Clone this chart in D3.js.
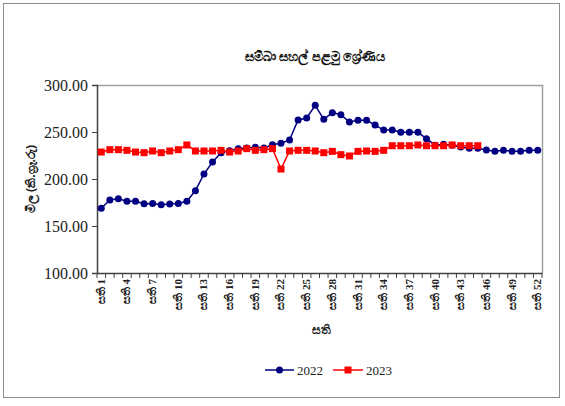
<!DOCTYPE html>
<html><head><meta charset="utf-8">
<script src="https://cdn.jsdelivr.net/npm/d3@7/dist/d3.min.js"></script>
<style>body{margin:0;background:#fff}svg{display:block}.serif text,text.serif{font-family:'Liberation Serif','Times New Roman',serif}</style>
</head><body><svg id="c" width="565" height="406"></svg>
<script>
const weeks = d3.range(1, 53).map(w => "සති " + w);
const tickWeeks = d3.range(1, 53, 3);
const s2022 = [168.8,177.7,179.0,176.3,176.3,173.8,174.0,172.7,173.4,174.0,176.3,187.6,205.3,218.0,228.0,230.0,232.3,233.0,233.7,233.0,236.5,238.0,241.5,262.8,264.9,278.4,263.5,270.6,268.4,260.6,262.4,262.4,257.4,252.1,252.1,249.7,249.7,249.7,242.9,236.0,237.0,236.0,234.0,232.6,232.6,230.9,229.4,230.5,229.4,229.4,230.5,230.5];
const s2023 = [228.7,231.2,231.2,230.5,228.7,228.0,229.8,228.0,229.8,231.2,236.2,229.8,229.8,229.8,230.5,228.7,229.8,232.3,230.5,231.2,232.3,210.6,229.8,230.5,230.5,229.8,228.0,229.4,225.9,224.5,229.4,229.8,229.4,230.5,235.4,235.4,235.4,236.2,235.4,235.4,235.4,236.2,235.4,235.4,235.4];
const yTicks = [100,150,200,250,300];
const title = "සම්බා සහල් පළමු ශ්‍රේණිය";
const yTitle = "මිල (කි.ග්‍රෑ.රු)";
const xTitle = "සති";
const seriesNames = ["2022","2023"];

const svg = d3.select("#c");
svg.append("rect").attr("x",3.5).attr("y",3.5).attr("width",556).attr("height",394).attr("fill","#fff").attr("stroke","#8c8c8c").attr("stroke-width",1);

const L=97, R=542, T=85, B=273;
const x = d3.scaleBand().domain(weeks).range([L,R]);
const y = d3.scaleLinear().domain([100,300]).range([B,T]);
const cx = i => x(weeks[i]) + x.bandwidth()/2;

// plot border top/right
svg.append("path").attr("d",`M${L},${T+0.5}H${R+0.5}V${B}`).attr("fill","none").attr("stroke","#a0a0a0").attr("stroke-width",1.5);

// y axis
const ya = svg.append("g").attr("class","serif").attr("transform",`translate(${L},0)`).call(d3.axisLeft(y).tickValues(yTicks).tickSize(5).tickFormat(d3.format(".2f")));
ya.attr("font-size",16);
ya.select(".domain").attr("stroke","#404040").attr("stroke-width",1.5);
ya.selectAll(".tick line").attr("stroke","#404040");
ya.selectAll("text").attr("fill","#222").attr("dx",-1);

// x axis
const xa = svg.append("g").attr("class","serif").attr("transform",`translate(0,${B})`).call(d3.axisBottom(x).tickSize(0).tickFormat(""));
xa.attr("font-size",11);
xa.select(".domain").attr("stroke","#404040").attr("stroke-width",1.5);
const bounds = d3.range(0,53).map(i => L + i*x.step());
xa.selectAll("line.b").data(bounds).join("line").attr("class","b").attr("x1",d=>d).attr("x2",d=>d).attr("y1",0).attr("y2",5).attr("stroke","#404040");
xa.selectAll("text.lab").data(tickWeeks).join("text").attr("class","lab")
  .attr("transform",d=>`translate(${cx(d-1)+3.5},6) rotate(-90)`)
  .attr("text-anchor","end").attr("font-weight","bold").attr("fill","#222")
  .text(d=>weeks[d-1]);

// titles
svg.append("text").attr("x",315).attr("y",61).attr("text-anchor","middle").attr("font-size",13).attr("font-weight","bold").attr("fill","#111").attr("font-family","Noto Sans, sans-serif").text(title);
svg.append("text").attr("transform",`translate(35,${(T+B)/2}) rotate(-90)`).attr("text-anchor","middle").attr("font-size",12).attr("font-weight","bold").attr("fill","#222").attr("font-family","Noto Sans, sans-serif").text(yTitle);
svg.append("text").attr("x",321).attr("y",334).attr("text-anchor","middle").attr("font-size",12).attr("font-weight","bold").attr("fill","#222").attr("font-family","Noto Sans, sans-serif").text(xTitle);

// lines
const line = d3.line().x((d,i)=>cx(i)).y(d=>y(d));
svg.append("path").datum(s2022).attr("d",line).attr("fill","none").attr("stroke","#000080").attr("stroke-width",1.5);
svg.selectAll("circle.p22").data(s2022).join("circle").attr("class","p22").attr("cx",(d,i)=>cx(i)).attr("cy",d=>y(d)).attr("r",3.5).attr("fill","#000080");
svg.append("path").datum(s2023).attr("d",line).attr("fill","none").attr("stroke","#ff0000").attr("stroke-width",1.5);
svg.selectAll("rect.p23").data(s2023).join("rect").attr("class","p23").attr("x",(d,i)=>cx(i)-3.5).attr("y",d=>y(d)-3.5).attr("width",7).attr("height",7).attr("fill","#ff0000");

// legend
const lg = svg.append("g").attr("class","serif").attr("font-size",13).attr("fill","#222");
lg.append("line").attr("x1",265).attr("x2",294).attr("y1",370).attr("y2",370).attr("stroke","#000080").attr("stroke-width",1.5);
lg.append("circle").attr("cx",279.5).attr("cy",370).attr("r",3.5).attr("fill","#000080");
lg.append("text").attr("x",297).attr("y",374.5).text(seriesNames[0]);
lg.append("line").attr("x1",333).attr("x2",363).attr("y1",370).attr("y2",370).attr("stroke","#ff0000").attr("stroke-width",1.5);
lg.append("rect").attr("x",344.5).attr("y",366.5).attr("width",7).attr("height",7).attr("fill","#ff0000");
lg.append("text").attr("x",366).attr("y",374.5).text(seriesNames[1]);
</script></body></html>
